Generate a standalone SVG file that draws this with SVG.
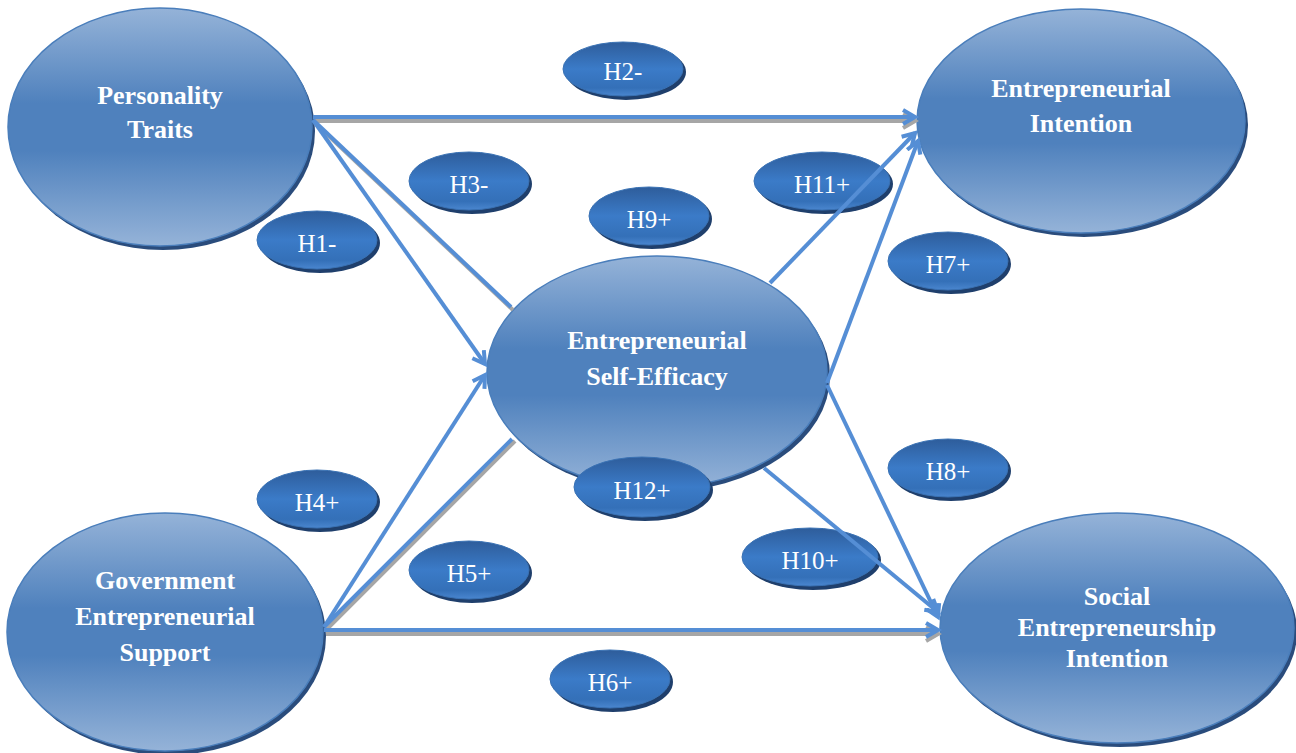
<svg xmlns="http://www.w3.org/2000/svg" width="1296" height="753" viewBox="0 0 1296 753">
<defs>
<linearGradient id="gBig" x1="0" y1="0" x2="0" y2="1">
<stop offset="0" stop-color="#95b3d8"/>
<stop offset="0.4" stop-color="#4f81bd"/>
<stop offset="0.6" stop-color="#4f81bd"/>
<stop offset="1" stop-color="#95b3d8"/>
</linearGradient>
<linearGradient id="gLbl" x1="0" y1="0" x2="0" y2="1">
<stop offset="0" stop-color="#2e5d9b"/>
<stop offset="0.5" stop-color="#3b7bc8"/>
<stop offset="0.85" stop-color="#3470b8"/>
<stop offset="1" stop-color="#4a86cf"/>
</linearGradient>
<marker id="arB" markerUnits="userSpaceOnUse" markerWidth="20" markerHeight="20" refX="13" refY="8" orient="auto" viewBox="0 0 20 16">
<path d="M1,1 L13,8 L1,15" fill="none" stroke="#558ed5" stroke-width="4" stroke-linejoin="miter"/>
</marker>
<marker id="arG" markerUnits="userSpaceOnUse" markerWidth="20" markerHeight="20" refX="13" refY="8" orient="auto" viewBox="0 0 20 16">
<path d="M1,1 L13,8 L1,15" fill="none" stroke="#a6a6a6" stroke-width="4"/>
</marker>
<style>
.big{fill:url(#gBig);stroke:#4a7ebb;stroke-width:1.5}
.bsh{fill:#2a4c7c}
.lbl{fill:url(#gLbl);stroke:#3a72b4;stroke-width:1}
.lsh{fill:#1f3f6c}
.bt{font-family:"Liberation Serif","Times New Roman",serif;font-weight:bold;font-size:26px;fill:#ffffff;text-anchor:middle}
.lt{font-family:"Liberation Serif","Times New Roman",serif;font-size:25px;fill:#ffffff;text-anchor:middle}
.c{stroke:#558ed5;stroke-width:4;fill:none}
.cg{stroke:#a6a6a6;stroke-width:4;fill:none}
</style>
</defs>
<rect width="1296" height="753" fill="#ffffff"/>

<g id="label-H1"><ellipse class="lsh" cx="320" cy="243" rx="60" ry="30"/><ellipse class="lbl" cx="317" cy="240" rx="60" ry="29"/><text class="lt" x="317" y="252">H1-</text></g>
<g id="label-H2"><ellipse class="lsh" cx="626" cy="72" rx="60" ry="28"/><ellipse class="lbl" cx="623" cy="69" rx="60" ry="27"/><text class="lt" x="623" y="80">H2-</text></g>
<g id="label-H3"><ellipse class="lsh" cx="472" cy="184" rx="60" ry="30"/><ellipse class="lbl" cx="469" cy="181" rx="60" ry="29"/><text class="lt" x="469" y="193">H3-</text></g>
<g id="label-H4"><ellipse class="lsh" cx="320" cy="502" rx="60" ry="30"/><ellipse class="lbl" cx="317" cy="499" rx="60" ry="29"/><text class="lt" x="317" y="511">H4+</text></g>
<g id="label-H5"><ellipse class="lsh" cx="472" cy="573" rx="60" ry="30"/><ellipse class="lbl" cx="469" cy="570" rx="60" ry="29"/><text class="lt" x="469" y="582">H5+</text></g>
<g id="label-H6"><ellipse class="lsh" cx="613" cy="682" rx="60" ry="30"/><ellipse class="lbl" cx="610" cy="679" rx="60" ry="29"/><text class="lt" x="610" y="691">H6+</text></g>
<g id="label-H7"><ellipse class="lsh" cx="951" cy="264" rx="60" ry="30"/><ellipse class="lbl" cx="948" cy="261" rx="60" ry="29"/><text class="lt" x="948" y="273">H7+</text></g>
<g id="label-H8"><ellipse class="lsh" cx="951" cy="471" rx="60" ry="30"/><ellipse class="lbl" cx="948" cy="468" rx="60" ry="29"/><text class="lt" x="948" y="480">H8+</text></g>
<g id="label-H9"><ellipse class="lsh" cx="652" cy="219" rx="60" ry="30"/><ellipse class="lbl" cx="649" cy="216" rx="60" ry="29"/><text class="lt" x="649" y="228">H9+</text></g>
<g id="label-H10"><ellipse class="lsh" cx="813" cy="560" rx="68" ry="30"/><ellipse class="lbl" cx="810" cy="557" rx="68" ry="29"/><text class="lt" x="810" y="569">H10+</text></g>
<g id="label-H11"><ellipse class="lsh" cx="825" cy="184" rx="68" ry="30"/><ellipse class="lbl" cx="822" cy="181" rx="68" ry="29"/><text class="lt" x="822" y="193">H11+</text></g>

<g id="node-personality"><ellipse class="bsh" cx="163" cy="131" rx="152" ry="119"/><ellipse class="big" cx="160" cy="127" rx="152" ry="119"/><text class="bt" x="160" y="104">Personality</text><text class="bt" x="160" y="138">Traits</text></g>
<g id="node-ei"><ellipse class="bsh" cx="1084" cy="125" rx="164" ry="112"/><ellipse class="big" cx="1081" cy="121" rx="164" ry="112"/><text class="bt" x="1081" y="97">Entrepreneurial</text><text class="bt" x="1081" y="132">Intention</text></g>
<g id="node-ese"><ellipse class="bsh" cx="660" cy="376" rx="170" ry="116"/><ellipse class="big" cx="657" cy="372" rx="170" ry="116"/><text class="bt" x="657" y="349">Entrepreneurial</text><text class="bt" x="657" y="385">Self-Efficacy</text></g>
<g id="node-ges"><ellipse class="bsh" cx="168" cy="636" rx="158" ry="119"/><ellipse class="big" cx="165" cy="632" rx="158" ry="119"/><text class="bt" x="165" y="589">Government</text><text class="bt" x="165" y="625">Entrepreneurial</text><text class="bt" x="165" y="661">Support</text></g>
<g id="node-sei"><ellipse class="bsh" cx="1120" cy="632" rx="177" ry="115"/><ellipse class="big" cx="1117" cy="628" rx="177" ry="115"/><text class="bt" x="1117" y="605">Social</text><text class="bt" x="1117" y="636">Entrepreneurship</text><text class="bt" x="1117" y="667">Intention</text></g>

<g id="connectors">
<line class="cg" x1="315" y1="121" x2="915" y2="121" marker-end="url(#arG)"/>
<line class="c" x1="313" y1="117" x2="915" y2="117" marker-end="url(#arB)"/>
<line class="cg" x1="315" y1="123" x2="513" y2="310"/>
<line class="c" x1="313" y1="120" x2="511" y2="307"/>
<line class="c" x1="313" y1="120" x2="485" y2="364" marker-end="url(#arB)"/>
<line class="cg" x1="327" y1="629" x2="515" y2="441"/>
<line class="c" x1="324" y1="627" x2="512" y2="439"/>
<line class="c" x1="324" y1="627" x2="485" y2="375" marker-end="url(#arB)"/>
<line class="cg" x1="326" y1="634" x2="938" y2="634" marker-end="url(#arG)"/>
<line class="c" x1="324" y1="630" x2="938" y2="630" marker-end="url(#arB)"/>
<line class="c" x1="770" y1="283" x2="915" y2="133" marker-end="url(#arB)"/>
<line class="c" x1="827" y1="383" x2="918" y2="141" marker-end="url(#arB)"/>
<line class="c" x1="827" y1="385" x2="938" y2="617" marker-end="url(#arB)"/>
<line class="c" x1="764" y1="468" x2="938" y2="612" marker-end="url(#arB)"/>
</g>

<g id="label-H12"><ellipse class="lsh" cx="645" cy="490" rx="68" ry="31"/><ellipse class="lbl" cx="642" cy="487" rx="68" ry="30"/><text class="lt" x="642" y="499">H12+</text></g>
</svg>
